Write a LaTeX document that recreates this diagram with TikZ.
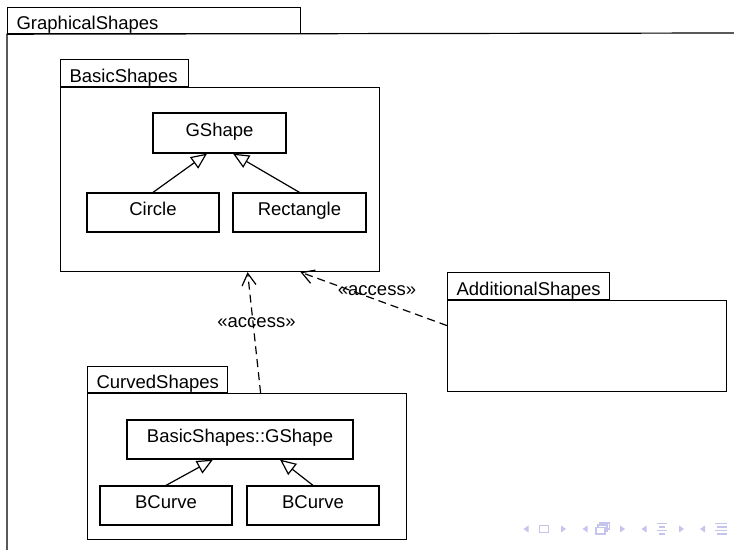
\documentclass[tikz,border=0pt]{standalone}
\usepackage{fontspec}
\setmainfont{Liberation Sans}
\usetikzlibrary{arrows.meta,calc}
\definecolor{navc}{RGB}{196,196,236}
\begin{document}
\begin{tikzpicture}[x=0.5pt,y=-0.5pt, line width=0.6pt,
  every node/.style={font=\fontsize{9.25pt}{11pt}\selectfont},
  cls/.style={draw, minimum height=19.5pt, inner sep=0pt, text height=6.75pt, text depth=3.5pt},
  tab/.style={draw, inner xsep=4.5pt, inner ysep=0pt, align=left, text height=9.25pt, text depth=0pt},
  pkg/.style={draw, inner sep=0pt},
  inh/.style={-{Triangle[open,length=8pt,width=7pt]}},
  acc/.style={-{Straight Barb[length=6pt,width=7pt]}, dash pattern=on 4pt off 2.5pt},
  lbl/.style={inner sep=0pt},
  nav/.style={fill=navc, draw=none},
  navl/.style={draw=navc, line width=0.7pt}]
\useasboundingbox (0,0) rectangle (734,550);

% outer package
\node[tab, text width=137.5pt, minimum height=13pt, anchor=north west] (gs) at (7,7) {GraphicalShapes};
\draw (7,552) -- (gs.south west) -- (736,33);

% BasicShapes
\node[pkg, minimum width=159.5pt, minimum height=92pt, anchor=north west] (bsbox) at (60,87) {};
\node[tab, text width=55pt, minimum height=13.5pt, anchor=south west] (bstab) at (bsbox.north west) {BasicShapes};
\node[cls, minimum width=66.5pt, minimum height=20pt] (gshape) at (219.5,133) {GShape};
\node[cls, minimum width=66pt] (circle) at (153,212.5) {Circle};
\node[cls, minimum width=66.5pt] (rect) at (299.5,212.5) {Rectangle};
\draw[inh] (circle.north) -- ([xshift=-6.25pt]gshape.south);
\draw[inh] (rect.north) -- ([xshift=6.75pt]gshape.south);

% AdditionalShapes
\node[pkg, minimum width=139.5pt, minimum height=45.5pt, anchor=north west] (asbox) at (447,300) {};
\node[tab, text width=72pt, minimum height=13.5pt, anchor=south west] (astab) at (asbox.north west) {AdditionalShapes};

% CurvedShapes
\node[pkg, minimum width=159.5pt, minimum height=73pt, anchor=north west] (csbox) at (87,393) {};
\node[tab, text width=61pt, minimum height=13pt, anchor=south west] (cstab) at (csbox.north west) {CurvedShapes};
\node[cls, minimum width=113pt] (bsg) at (240,439.5) {BasicShapes::GShape};
\node[cls, minimum width=66pt] (bc1) at (166,505.5) {BCurve};
\node[cls, minimum width=66pt] (bc2) at (313,505.5) {BCurve};
\draw[inh] (bc1.north) -- ([xshift=-13.5pt]bsg.south);
\draw[inh] (bc2.north) -- ([xshift=20pt]bsg.south);

% access dependencies
\draw[acc] ([xshift=6.75pt]csbox.north) -- ([xshift=13.75pt]bsbox.south);
\node[lbl] (l1) at (256.5,323) {«access»};
\draw[acc] ([yshift=10.25pt]asbox.west) -- ([xshift=40.25pt]bsbox.south);
\node[lbl] (l2) at (377,291) {«access»};

% navigation symbols
\fill[nav] (528.5,525.5) -- (523.5,529) -- (528.5,532.5) -- cycle;
\draw[navl] (539.5,525.5) rectangle (548.5,532.5);
\fill[nav] (561,525.5) -- (566,529) -- (561,532.5) -- cycle;
\fill[nav] (587.5,525.5) -- (582.5,529) -- (587.5,532.5) -- cycle;
\draw[navl] (596,527.5) rectangle (605,534);
\draw[navl] (598,527.5) -- (598,525) -- (607,525) -- (607,531.5) -- (605,531.5);
\draw[navl] (600,525) -- (600,523) -- (609.5,523) -- (609.5,529) -- (607,529);
\fill[nav] (620,525.5) -- (625,529) -- (620,532.5) -- cycle;
\fill[nav] (646.5,525.5) -- (641.5,529) -- (646.5,532.5) -- cycle;
\draw[navl] (657,523.5) -- (667,523.5);
\draw[navl] (659,527) -- (665,527);
\draw[navl] (657,530.5) -- (667,530.5);
\draw[navl] (659,534) -- (665,534);
\fill[nav] (679,525.5) -- (684,529) -- (679,532.5) -- cycle;
\fill[nav] (705,525.5) -- (700,529) -- (705,532.5) -- cycle;
\draw[navl] (715,523.5) -- (727,523.5);
\draw[navl] (717,527) -- (727,527);
\draw[navl] (715,530.5) -- (727,530.5);
\draw[navl] (717,534) -- (727,534);
\end{tikzpicture}
\end{document}
